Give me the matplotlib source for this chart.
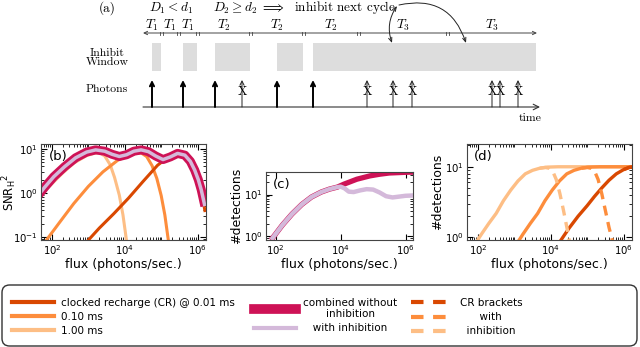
import numpy as np
import matplotlib
matplotlib.use("Agg")
import matplotlib.pyplot as plt
from matplotlib.ticker import LogLocator, NullFormatter
from matplotlib.patches import FancyBboxPatch
from matplotlib.lines import Line2D

plt.rcParams['font.family'] = ['DejaVu Sans']
plt.rcParams['mathtext.fontset'] = 'dejavusans'

DARK = '#d94801'
MED = '#fd8d3c'
LIGHT = '#fdbe85'
CRIMSON = '#ce1256'
PINK = '#d4b9da'

# ---- panel (a): schematic timeline (arbitrary time units)
bounds = [0, 18, 35, 54, 107, 160, 215, 304, 393]
interval_names = ['$T_1$', '$T_1$', '$T_1$', '$T_2$', '$T_2$', '$T_2$', '$T_3$', '$T_3$']
inhibit_windows = [(9, 18), (40, 54), (72, 107), (134, 160), (170, 393)]
detected_t = [9, 40, 72, 134, 170]
blocked_t = [99, 224, 250, 269, 349, 357, 375]

# ---- panel (b): SNR_H^2 vs flux (log10 values)
b_lx_light = [1.6, 1.9, 2.3, 2.6, 2.95, 3.15, 3.3, 3.45, 3.6, 3.72, 3.85, 3.95, 4.05]
b_ly_light = [-0.17, 0.13, 0.46, 0.68, 0.85, 0.90, 0.92, 0.84, 0.64, 0.35, -0.05, -0.5, -1.1]
b_lx_med = [1.85, 2.2, 2.6, 3.0, 3.4, 3.8, 4.1, 4.3, 4.45, 4.6, 4.75, 4.88, 5.0, 5.1, 5.2]
b_ly_med = [-1.07, -0.68, -0.24, 0.15, 0.48, 0.74, 0.86, 0.90, 0.91, 0.83, 0.62, 0.33, -0.06, -0.5, -1.1]
b_lx_dark = [2.97, 3.3, 3.7, 4.1, 4.5, 4.9, 5.2, 5.45, 5.65, 5.8, 5.95, 6.1, 6.2]
b_ly_dark = [-1.1, -0.8, -0.47, -0.12, 0.26, 0.63, 0.82, 0.89, 0.88, 0.75, 0.5, 0.05, -0.4]
b_lx_comb = [1.6, 1.8, 2.05, 2.35, 2.65, 2.95, 3.2, 3.45, 3.65, 3.85, 4.05, 4.25, 4.45,
             4.65, 4.85, 5.05, 5.25, 5.45, 5.65, 5.8, 5.92, 6.02, 6.1, 6.2]
b_ly_comb = [-0.08, 0.13, 0.37, 0.60, 0.80, 0.93, 0.98, 0.95, 0.88, 0.83, 0.87, 0.95, 0.98,
             0.94, 0.84, 0.76, 0.82, 0.90, 0.86, 0.72, 0.52, 0.30, 0.07, -0.3]

# ---- panel (c): detections, combined with / without inhibition
c_lx_inh = [1.9, 2.2, 2.5, 2.8, 3.1, 3.4, 3.65, 3.9, 4.0, 4.12, 4.25, 4.4, 4.6, 4.8,
            5.0, 5.2, 5.4, 5.6, 5.8, 6.0, 6.3]
c_ly_inh = [-0.05, 0.26, 0.53, 0.76, 0.94, 1.06, 1.13, 1.18, 1.19, 1.15, 1.07, 1.06, 1.10, 1.13,
            1.12, 1.05, 0.96, 0.93, 0.95, 0.97, 0.98]
c_lx_noinh = [1.9, 2.2, 2.5, 2.8, 3.1, 3.4, 3.65, 3.9, 4.1, 4.3, 4.5, 4.7, 4.9, 5.2, 5.5, 5.8, 6.1, 6.3]
c_ly_noinh = [-0.05, 0.26, 0.53, 0.76, 0.94, 1.06, 1.13, 1.18, 1.25, 1.31, 1.37, 1.41, 1.45, 1.49,
              1.52, 1.53, 1.54, 1.54]

# ---- panel (d): detections per clocked recharge, solid = CR, dashed = CR brackets w/ inhibition
d_lx_light = [1.95, 2.1, 2.3, 2.5, 2.7, 2.9, 3.1, 3.3, 3.5, 3.7, 3.9, 4.2, 6.3]
d_ly_light = [-0.07, 0.05, 0.2, 0.34, 0.52, 0.67, 0.8, 0.9, 0.95, 0.98, 0.995, 1.0, 1.0]
d_lx_med = [3.09, 3.24, 3.44, 3.64, 3.84, 4.04, 4.24, 4.44, 4.64, 4.84, 5.04, 5.34, 6.3]
d_ly_med = [-0.07, 0.05, 0.2, 0.34, 0.52, 0.67, 0.8, 0.9, 0.95, 0.98, 0.995, 1.0, 1.0]
d_lx_dark = [4.25, 4.5, 4.75, 5.0, 5.2, 5.4, 5.6, 5.8, 6.0, 6.15, 6.3]
d_ly_dark = [-0.06, 0.13, 0.3, 0.45, 0.58, 0.7, 0.81, 0.9, 0.96, 0.99, 1.0]
d_lx_light_br = [3.7, 3.85, 3.95, 4.05, 4.15, 4.25, 4.35, 4.45, 4.52]
d_ly_light_br = [0.98, 0.99, 0.98, 0.94, 0.82, 0.62, 0.38, 0.12, -0.08]
d_lx_med_br = [4.85, 5.0, 5.1, 5.2, 5.3, 5.4, 5.5, 5.6, 5.71]
d_ly_med_br = [0.98, 0.99, 0.98, 0.94, 0.82, 0.62, 0.38, 0.14, -0.08]
d_lx_dark_br = [6.0, 6.15, 6.3]
d_ly_dark_br = [0.96, 0.99, 1.0]


def p10(a):
    return 10 ** np.asarray(a)


def style_log(ax, ylim, xlim=(50, 1.7e6)):
    ax.set_xscale('log')
    ax.set_yscale('log')
    ax.set_xlim(*xlim)
    ax.set_ylim(*ylim)
    ax.xaxis.set_major_locator(LogLocator(base=100))
    ax.xaxis.set_minor_locator(LogLocator(base=10, subs=np.arange(1, 10)))
    ax.xaxis.set_minor_formatter(NullFormatter())
    ax.yaxis.set_major_locator(LogLocator(base=10))
    ax.yaxis.set_minor_locator(LogLocator(base=10, subs=np.arange(1, 10)))
    ax.yaxis.set_minor_formatter(NullFormatter())
    ax.tick_params(which='both', direction='in', top=True, right=True, labelsize=7.3, pad=2)
    ax.tick_params(which='major', length=4, width=0.8)
    ax.tick_params(which='minor', length=2, width=0.6)
    for s in ax.spines.values():
        s.set_color('#444444')
        s.set_linewidth(0.8)
    ax.set_xlabel('flux (photons/sec.)', fontsize=9, labelpad=1)


fig = plt.figure(figsize=(6.4, 3.47), dpi=100)

# ---------------- panel (a)
ax_a = fig.add_axes([0, 1 - 125 / 347, 1, 125 / 347])
ax_a.set_xlim(-143, 497)
ax_a.set_ylim(125, 0)
ax_a.axis('off')
cm_txt = dict(family='cmr10', math_fontfamily='cm', fontsize=8.5)
cm_math = dict(family='cmr10', math_fontfamily='cm', fontsize=9.5)

ax_a.broken_barh([(s, e - s) for s, e in inhibit_windows], (43, 28), facecolors='#dddddd')
ax_a.annotate('', xy=(397, 107), xytext=(0, 107),
              arrowprops=dict(arrowstyle='->', lw=0.8, color='#333333', shrinkA=0, shrinkB=0))
ax_a.annotate('', xy=(394, 33), xytext=(0, 33),
              arrowprops=dict(arrowstyle='<->,head_length=0.25,head_width=0.12', lw=0.7,
                              color='#444444', shrinkA=0, shrinkB=0))
for b in bounds[1:-1]:
    ax_a.plot([b - 1.5, b - 1.5], [31.5, 34.5], color='#444444', lw=0.6)
    ax_a.plot([b + 1.5, b + 1.5], [31.5, 34.5], color='#444444', lw=0.6)
for i, name in enumerate(interval_names):
    ax_a.text((bounds[i] + bounds[i + 1]) / 2, 25, name, ha='center', va='center', **cm_math)

for t in detected_t:
    ax_a.annotate('', xy=(t, 80), xytext=(t, 107),
                  arrowprops=dict(arrowstyle='->,head_length=0.3,head_width=0.15', lw=1.4,
                                  color='black', shrinkA=0, shrinkB=0))
for t in blocked_t:
    ax_a.annotate('', xy=(t, 80), xytext=(t, 107),
                  arrowprops=dict(arrowstyle='->,head_length=0.3,head_width=0.15', lw=0.7,
                                  color='#222222', shrinkA=0, shrinkB=0))
    ax_a.text(t, 92, 'X', ha='center', va='center', family='cmr10', fontsize=9)

ax_a.text(-36, 8, '(a)', ha='center', va='center', **cm_math)
ax_a.text(-36, 58, 'Inhibit\nWindow', ha='center', va='center', linespacing=0.95, **cm_txt)
ax_a.text(-36, 89, 'Photons', ha='center', va='center', **cm_txt)
ax_a.text(387, 118, 'time', ha='center', va='center', **cm_txt)
ax_a.text(28, 8, '$D_1 < d_1$', ha='center', va='center', **cm_math)
ax_a.text(162, 8, r'$D_2 \geq d_2\ \Longrightarrow\ $ inhibit next cycle', ha='center',
          va='center', **cm_math)
ax_a.annotate('', xy=(249, 43), xytext=(254, 6),
              arrowprops=dict(arrowstyle='<->,head_length=0.3,head_width=0.12', lw=0.7,
                              color='#222222', connectionstyle='arc3,rad=0.25',
                              shrinkA=0, shrinkB=0))
ax_a.annotate('', xy=(323, 43), xytext=(256, 5),
              arrowprops=dict(arrowstyle='->,head_length=0.3,head_width=0.12', lw=0.7,
                              color='#222222', connectionstyle='arc3,rad=-0.45',
                              shrinkA=0, shrinkB=0))

# ---------------- panel (b)
ax_b = fig.add_axes([41 / 640, 107 / 347, 165 / 640, 96 / 347])
ax_b.plot(p10(b_lx_light), p10(b_ly_light), color=LIGHT, lw=2.2)
ax_b.plot(p10(b_lx_med), p10(b_ly_med), color=MED, lw=2.2)
ax_b.plot(p10(b_lx_dark), p10(b_ly_dark), color=DARK, lw=2.2)
ax_b.plot(p10(b_lx_comb), p10(b_ly_comb), color=CRIMSON, lw=6.5, solid_capstyle='butt')
ax_b.plot(p10(b_lx_comb), p10(b_ly_comb), color=PINK, lw=2.5, solid_capstyle='butt')
style_log(ax_b, (0.085, 13))
ax_b.set_ylabel(r'$\mathrm{SNR}_\mathrm{H}{}^2$', fontsize=8.5)
ax_b.yaxis.set_label_coords(-0.135, 0.5)
ax_b.text(0.05, 0.87, '(b)', transform=ax_b.transAxes, fontsize=9.5, va='center')

# ---------------- panel (c)
ax_c = fig.add_axes([266 / 640, 107 / 347, 147 / 640, 68 / 347])
ax_c.plot(p10(c_lx_noinh), p10(c_ly_noinh), color=CRIMSON, lw=3.8)
ax_c.plot(p10(c_lx_inh), p10(c_ly_inh), color=PINK, lw=3.2)
style_log(ax_c, (0.8, 35))
ax_c.set_ylabel('#detections', fontsize=9, labelpad=1)
ax_c.text(0.05, 0.82, '(c)', transform=ax_c.transAxes, fontsize=9.5, va='center')

# ---------------- panel (d)
ax_d = fig.add_axes([467 / 640, 107 / 347, 165 / 640, 96 / 347])
ax_d.plot(p10(d_lx_light), p10(d_ly_light), color=LIGHT, lw=2.4)
ax_d.plot(p10(d_lx_med), p10(d_ly_med), color=MED, lw=2.4)
ax_d.plot(p10(d_lx_dark), p10(d_ly_dark), color=DARK, lw=2.4)
ax_d.plot(p10(d_lx_light_br), p10(d_ly_light_br), color=LIGHT, lw=2.4, dashes=(3, 2))
ax_d.plot(p10(d_lx_med_br), p10(d_ly_med_br), color=MED, lw=2.4, dashes=(3, 2))
ax_d.plot(p10(d_lx_dark_br), p10(d_ly_dark_br), color=DARK, lw=2.4, dashes=(3, 2))
style_log(ax_d, (0.92, 21))
ax_d.set_ylabel('#detections', fontsize=9, labelpad=1)
ax_d.text(0.04, 0.87, '(d)', transform=ax_d.transAxes, fontsize=9.5, va='center')

# ---------------- legend box
lax = fig.add_axes([2 / 640, 1 / 347, 635 / 640, 61 / 347])
lax.set_xlim(0, 1)
lax.set_ylim(0, 1)
lax.axis('off')
lax.add_patch(FancyBboxPatch((0, 0), 1, 1, boxstyle='round,pad=0,rounding_size=0.012',
                             mutation_aspect=10.4, transform=lax.transAxes, fc='white',
                             ec='#333333', lw=1.0, clip_on=False))
leg_kw = dict(frameon=False, borderpad=0, fontsize=7.5, handlelength=4.0,
              handletextpad=0.7, labelspacing=0.4, loc='upper left')
h1 = [Line2D([], [], color=DARK, lw=3), Line2D([], [], color=MED, lw=3),
      Line2D([], [], color=LIGHT, lw=3)]
l1 = ['clocked recharge (CR) @ 0.01 ms', '0.10 ms', '1.00 ms']
leg1 = lax.legend(h1, l1, bbox_to_anchor=(0.008, 0.88), **leg_kw)
lax.add_artist(leg1)
h2 = [Line2D([], [], color=CRIMSON, lw=7), Line2D([], [], color=PINK, lw=3)]
l2 = ['combined without\ninhibition', '   with inhibition']
leg2 = lax.legend(h2, l2, bbox_to_anchor=(0.389, 0.88), **leg_kw)
for t in leg2.get_texts():
    t.set_multialignment('center')
lax.add_artist(leg2)
h3 = [Line2D([], [], color=DARK, lw=3, dashes=(3, 2.3)),
      Line2D([], [], color=MED, lw=3, dashes=(3, 2.3)),
      Line2D([], [], color=LIGHT, lw=3, dashes=(3, 2.3))]
l3 = ['CR brackets', '      with', '  inhibition']
leg3 = lax.legend(h3, l3, bbox_to_anchor=(0.636, 0.87), **leg_kw)

fig.savefig('out.png', dpi=100)
